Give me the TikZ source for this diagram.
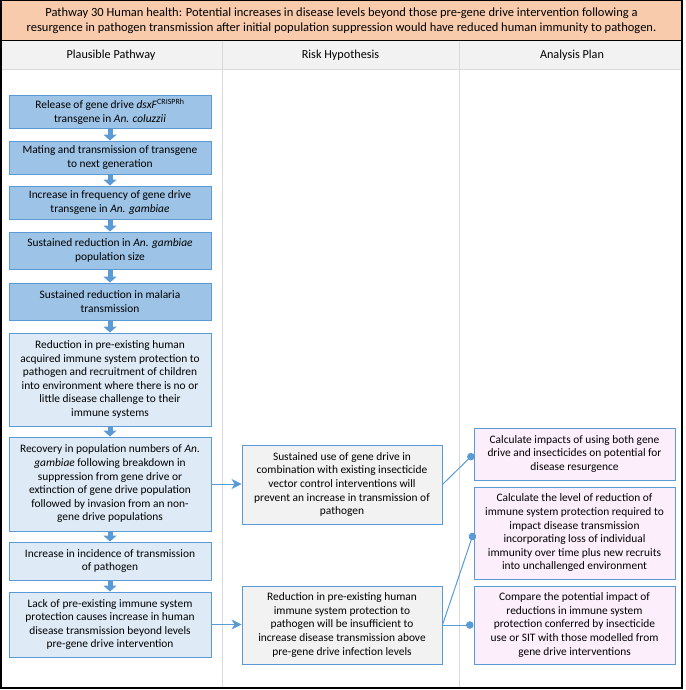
\documentclass[tikz,border=0pt]{standalone}
\usepackage{fontspec}
\setmainfont{Carlito}
\usetikzlibrary{arrows.meta}
\definecolor{bordblue}{HTML}{5B9BD5}
\definecolor{darkfill}{HTML}{9DC3E6}
\definecolor{lightfill}{HTML}{DEEBF7}
\definecolor{grayfill}{HTML}{F2F2F2}
\definecolor{pinkfill}{HTML}{FCEFFB}
\definecolor{titlefill}{HTML}{F8CBAD}
\definecolor{gridgray}{HTML}{D9D9D9}
\begin{document}
\begin{tikzpicture}[x=1pt,y=-1pt,
  every node/.style={font=\fontsize{11.4}{13.6}\selectfont, align=center, inner sep=0pt},
  boxbase/.style={draw=bordblue, line width=0.9pt, rectangle},
  leftdark/.style={boxbase, fill=darkfill, minimum width=202pt},
  leftlight/.style={boxbase, fill=lightfill, minimum width=202pt},
  midbox/.style={boxbase, fill=grayfill, minimum width=200pt},
  rightbox/.style={boxbase, fill=pinkfill, minimum width=201pt},
  blockarrow/.style={draw=bordblue, line width=5pt, -{Triangle[width=13pt,length=6pt]}},
  thinarrow/.style={draw=bordblue, line width=1pt, -{Stealth[width=10pt,length=10pt,inset=3pt]}},
  dotline/.style={draw=bordblue, line width=1pt, -{Circle[length=7.5pt]}},
  headtext/.style={font=\fontsize{12.2}{14.5}\selectfont},
  titletext/.style={font=\fontsize{12.5}{15}\selectfont}
]
\useasboundingbox (0,0) rectangle (685,690);
% title
\node[draw=black, line width=1.5pt, fill=titlefill, minimum width=681pt, minimum height=40pt, titletext] (title) at (341.5,20.5)
  {Pathway 30 Human health: Potential increases in disease levels beyond those pre-gene drive intervention following a\\
   resurgence in pathogen transmission after initial population suppression would have reduced human immunity to pathogen.};
% header row
\fill[grayfill] (1.5,41) rectangle (681.5,70);
\draw[gridgray, line width=1pt] (1.5,70) -- (681.5,70);
\draw[gridgray, line width=1pt] (222,41) -- (222,688);
\draw[gridgray, line width=1pt] (459,41) -- (459,688);
\draw[black, line width=1.5pt] (1,40.5) -- (1,688) -- (682,688) -- (682,40.5);
\node[headtext] (h1) at (111,55.5) {Plausible Pathway};
\node[headtext] (h2) at (340.5,55.5) {Risk Hypothesis};
\node[headtext] (h3) at (572,55.5) {Analysis Plan};
% left column
\node[leftdark, minimum height=33pt] (b1) at (110,111.5) {Release of gene drive \textit{dsxF}\textsuperscript{CRISPRh}\\transgene in \textit{An. coluzzii}};
\node[leftdark, minimum height=33pt] (b2) at (110,157.5) {Mating and transmission of transgene\\to next generation};
\node[leftdark, minimum height=33pt] (b3) at (110,202.5) {Increase in frequency of gene drive\\transgene in \textit{An. gambiae}};
\node[leftdark, minimum height=37pt] (b4) at (110,250.5) {Sustained reduction in \textit{An. gambiae}\\population size};
\node[leftdark, minimum height=37pt] (b5) at (110,301.5) {Sustained reduction in malaria\\transmission};
\node[leftlight, minimum height=93pt] (b6) at (110,379.5) {Reduction in pre-existing human\\acquired immune system protection to\\pathogen and recruitment of children\\into environment where there is no or\\little disease challenge to their\\immune systems};
\node[leftlight, minimum height=94pt] (b7) at (110,484) {Recovery in population numbers of \textit{An.}\\\textit{gambiae} following breakdown in\\suppression from gene drive or\\extinction of gene drive population\\followed by invasion from an non-\\gene drive populations};
\node[leftlight, minimum height=38pt] (b8) at (110,561) {Increase in incidence of transmission\\of pathogen};
\node[leftlight, minimum height=65pt] (b9) at (110,624.5) {Lack of pre-existing immune system\\protection causes increase in human\\disease transmission beyond levels\\pre-gene drive intervention};
% middle column
\node[midbox, minimum height=79pt] (m1) at (342,484.5) {Sustained use of gene drive in\\combination with existing insecticide\\vector control interventions will\\prevent an increase in transmission of\\pathogen};
\node[midbox, minimum height=78pt] (m2) at (342,625) {Reduction in pre-existing human\\immune system protection to\\pathogen will be insufficient to\\increase disease transmission above\\pre-gene drive infection levels};
% right column
\node[rightbox, minimum height=52pt] (r1) at (574.5,454) {Calculate impacts of using both gene\\drive and insecticides on potential for\\disease resurgence};
\node[rightbox, minimum height=92pt] (r2) at (574.5,533) {Calculate the level of reduction of\\immune system protection required to\\impact disease transmission\\incorporating loss of individual\\immunity over time plus new recruits\\into unchallenged environment};
\node[rightbox, minimum height=78pt] (r3) at (574.5,625) {Compare the potential impact of\\reductions in immune system\\protection conferred by insecticide\\use or SIT with those modelled from\\gene drive interventions};
% block arrows
\draw[blockarrow] (b1.south) -- (b2.north);
\draw[blockarrow] (b2.south) -- (b3.north);
\draw[blockarrow] (b3.south) -- (b4.north);
\draw[blockarrow] (b4.south) -- (b5.north);
\draw[blockarrow] (b5.south) -- (b6.north);
\draw[blockarrow] (b6.south) -- (b7.north);
\draw[blockarrow] (b7.south) -- (b8.north);
\draw[blockarrow] (b8.south) -- (b9.north);
% horizontal arrows
\draw[thinarrow] (b7.east) -- (b7.east -| m1.west);
\draw[thinarrow] (b9.east) -- (b9.east -| m2.west);
% dot connectors
\draw[dotline] (m1.east) -- (r1.west);
\draw[dotline] (m2.east) -- (r2.west);
\draw[dotline] (m2.east) -- (r3.west);
\end{tikzpicture}
\end{document}
